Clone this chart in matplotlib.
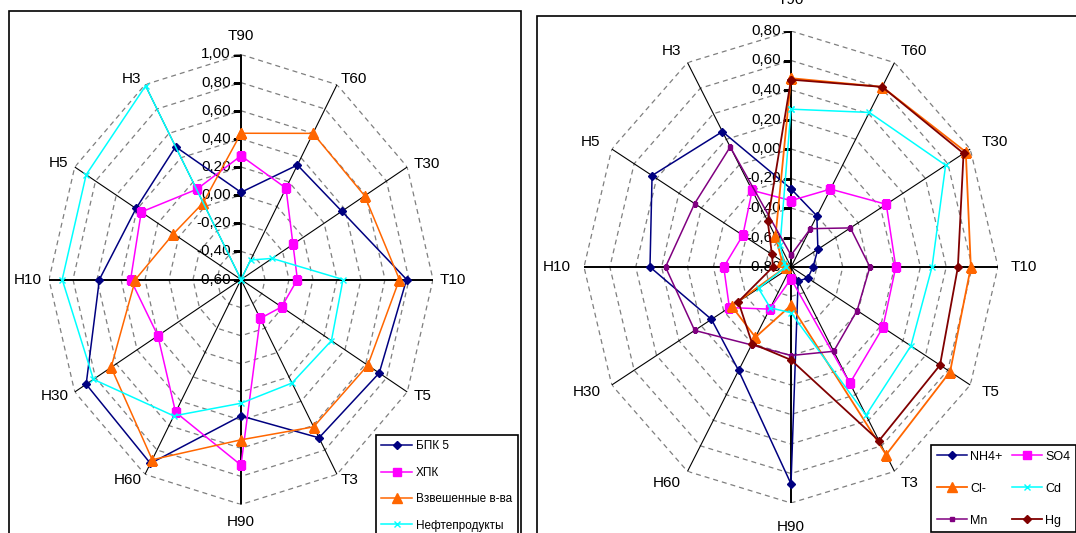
import numpy as np
import matplotlib
matplotlib.use("Agg")
import matplotlib.pyplot as plt
from matplotlib.transforms import offset_copy
from matplotlib.patches import Rectangle

plt.rcParams["font.family"] = ["Liberation Sans", "DejaVu Sans"]

# ---- data -------------------------------------------------------------
categories = ["Т90", "Т60", "Т30", "Т10", "Т5", "Т3",
              "Н90", "Н60", "Н30", "Н10", "Н5", "Н3"]

# left chart: organic load indicators
bpk5 = [0.02, 0.34, 0.37, 0.78, 0.73, 0.70, 0.37, 0.91, 0.89, 0.58, 0.41, 0.49]
hpk = [0.28, 0.15, -0.10, -0.13, -0.21, -0.28, 0.72, 0.49, 0.20, 0.32, 0.36, 0.14]
vzvesh = [0.44, 0.60, 0.59, 0.72, 0.62, 0.61, 0.54, 0.88, 0.65, 0.28, 0.05, 0.03]
nefteprod = [-0.60, -0.44, -0.30, 0.25, 0.27, 0.25, 0.28, 0.52, 0.82, 0.89, 0.89, 0.99]
left_ticks = [-0.60, -0.40, -0.20, 0.00, 0.20, 0.40, 0.60, 0.80, 1.00]

# right chart: ions and metals
nh4 = [-0.27, -0.40, -0.56, -0.63, -0.65, -0.69, 0.67, 0.01, -0.09, 0.29, 0.44, 0.26]
so4 = [-0.35, -0.19, 0.05, 0.01, 0.02, 0.11, -0.72, -0.47, -0.25, -0.28, -0.37, -0.20]
cl = [0.48, 0.61, 0.76, 0.59, 0.62, 0.67, -0.54, -0.25, -0.27, -0.76, -0.72, -0.56]
cd = [0.27, 0.41, 0.58, 0.29, 0.27, 0.36, -0.49, -0.48, -0.51, -0.76, -0.74, -0.63]
mn = [-0.72, -0.50, -0.27, -0.19, -0.21, -0.14, -0.20, -0.19, 0.06, 0.17, 0.06, 0.14]
hg = [0.47, 0.61, 0.74, 0.49, 0.53, 0.56, -0.17, -0.20, -0.33, -0.66, -0.63, -0.44]
right_ticks = [-0.80, -0.60, -0.40, -0.20, 0.00, 0.20, 0.40, 0.60, 0.80]

# ---- figure -----------------------------------------------------------
W, H = 1076, 533
fig = plt.figure(figsize=(W / 100, H / 100), dpi=100)
fig.patch.set_facecolor("white")

theta = np.arange(len(categories)) * 2 * np.pi / len(categories)
theta_closed = np.append(theta, theta[0])


def fmt(v):
    return f"{v:.2f}".replace(".", ",")


def radar_axes(cx, cy, rx, ry):
    ax = fig.add_axes([(cx - rx) / W, 1 - (cy + ry) / H, 2 * rx / W, 2 * ry / H],
                      projection="polar")
    ax.set_aspect("auto")
    ax.set_theta_zero_location("N")
    ax.set_theta_direction(-1)
    ax.grid(False)
    ax.set_xticks([])
    ax.set_yticks([])
    ax.spines["polar"].set_visible(False)
    ax.patch.set_alpha(0)
    return ax


def draw_frame(ax, ticks, d_side, d_top, d_bottom, fsize):
    vmin, vmax = ticks[0], ticks[-1]
    ax.set_ylim(vmin, vmax)
    # dashed polygonal grid
    for lev in ticks[1:]:
        ax.plot(theta_closed, [lev] * len(theta_closed), color="#7f7f7f",
                lw=0.9, dashes=(4, 3.2), zorder=1)
    # spokes
    for i, t in enumerate(theta):
        lw = 1.4 if i % 3 == 0 else 0.8
        ax.plot([t, t], [vmin, vmax], color="black", lw=lw, zorder=2)
    # value axis labels and ticks
    tr = offset_copy(ax.transData, fig=fig, x=-10, y=0, units="dots")
    for lev in ticks:
        ax.text(0, lev, fmt(lev), transform=tr, ha="right", va="center",
                fontsize=fsize, zorder=3)
    ax.plot([0] * len(ticks), ticks, ls="none", marker=0, ms=6,
            mec="black", mew=0.9, zorder=2)
    # category labels
    for i, (t, name) in enumerate(zip(theta, categories)):
        if i == 0:
            ha, va, d = "center", "bottom", d_top
        elif i == 6:
            ha, va, d = "center", "top", d_bottom
        elif i < 6:
            ha, va, d = "left", "center", d_side
        else:
            ha, va, d = "right", "center", d_side
        trc = offset_copy(ax.transData, fig=fig, x=d * np.sin(t),
                          y=d * np.cos(t), units="dots")
        ax.text(t, vmax, name, transform=trc, ha=ha, va=va, fontsize=fsize)


def series(ax, vals, color, marker, ms, label, lw=1.1):
    v = np.append(vals, vals[0])
    (ln,) = ax.plot(theta_closed, v, color=color, lw=lw, marker=marker, ms=ms,
                    mfc=color, mec=color, mew=1.0, label=label, zorder=4)
    return ln


# panel borders
fig.add_artist(Rectangle((9 / W, -0.05), (521 - 9) / W, 1 - 11 / H + 0.05,
                         transform=fig.transFigure, fill=False, ec="black",
                         lw=1.2, clip_on=False, zorder=0))
fig.add_artist(Rectangle((537 / W, -0.05), 0.6, 1 - 16 / H + 0.05,
                         transform=fig.transFigure, fill=False, ec="black",
                         lw=1.2, clip_on=False, zorder=0))

# ---- left radar -------------------------------------------------------
axl = radar_axes(241, 279.5, 192, 225)
draw_frame(axl, left_ticks, d_side=7, d_top=11, d_bottom=10, fsize=11)
h1 = series(axl, bpk5, "#000080", "D", 4.5, "БПК 5")
h2 = series(axl, hpk, "#FF00FF", "s", 5.5, "ХПК")
h3 = series(axl, vzvesh, "#FF6600", "^", 6.5, "Взвешенные в-ва")
h4 = series(axl, nefteprod, "#00FFFF", "x", 5, "Нефтепродукты")

legl = axl.legend(handles=[h1, h2, h3, h4], loc="upper left",
                  bbox_to_anchor=(376 / W, 1 - 435 / H),
                  bbox_transform=fig.transFigure, frameon=True, fancybox=False,
                  framealpha=1, edgecolor="black", fontsize=8.5,
                  handlelength=2.6, handletextpad=0.35, labelspacing=1.22,
                  borderpad=0.45, borderaxespad=0)
legl.get_frame().set_linewidth(1.2)

# ---- right radar ------------------------------------------------------
axr = radar_axes(791, 267, 207, 236)
draw_frame(axr, right_ticks, d_side=13, d_top=24, d_bottom=17, fsize=11)
g1 = series(axr, nh4, "#000080", "D", 4, "NH4+")
g2 = series(axr, so4, "#FF00FF", "s", 5.5, "SO4")
g3 = series(axr, cl, "#FF6600", "^", 6.5, "Cl-", lw=1.3)
g4 = series(axr, cd, "#00FFFF", "x", 5, "Cd")
g5 = series(axr, mn, "#800080", "s", 3, "Mn")
g6 = series(axr, hg, "#800000", "D", 4.5, "Hg", lw=1.3)

legr = axr.legend(handles=[g1, g3, g5, g2, g4, g6], ncol=2, loc="upper left",
                  bbox_to_anchor=(931 / W, 1 - 445 / H),
                  bbox_transform=fig.transFigure, frameon=True, fancybox=False,
                  framealpha=1, edgecolor="black", fontsize=9,
                  handlelength=2.4, handletextpad=0.3, labelspacing=1.6,
                  columnspacing=0.7, borderpad=0.45, borderaxespad=0)
legr.get_frame().set_linewidth(1.2)

fig.savefig("out.png", dpi=100, facecolor="white")
